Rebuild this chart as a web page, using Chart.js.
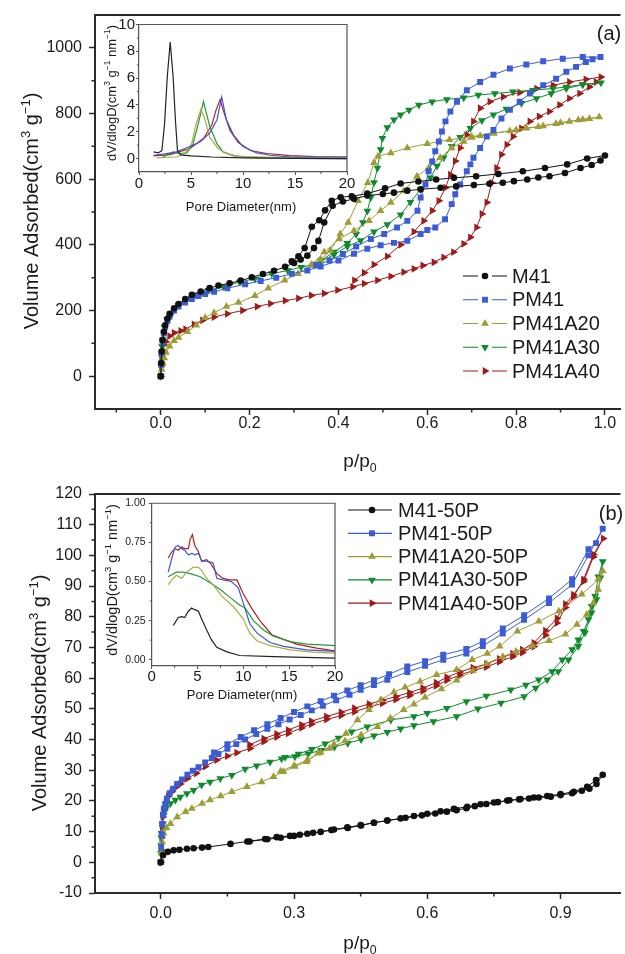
<!DOCTYPE html>
<html lang="en">
<head>
<meta charset="utf-8">
<title>N2 sorption isotherms</title>
<script src="https://cdn.jsdelivr.net/npm/chart.js@4.4.0/dist/chart.umd.min.js"></script>
<style>
  body { margin: 0; background: #fff; }
  #page { position: relative; width: 625px; height: 954px; overflow: hidden; background: #fff; }
  canvas { position: absolute; }
</style>
</head>
<body>
<div id="page">
  <canvas id="mainA" width="625" height="477" style="left:0;top:0"></canvas>
  <canvas id="mainB" width="625" height="477" style="left:0;top:477px"></canvas>
  <canvas id="insetA" width="270" height="200" style="left:90px;top:15px"></canvas>
  <canvas id="insetB" width="260" height="225" style="left:95px;top:495px"></canvas>
</div>
<script>
// ---------- panel (a) isotherms: adsorption branch, then desorption branch ----------
const A_XTICKS = [0, 0.2, 0.4, 0.6, 0.8, 1.0];
const A_XMINOR = [-0.1, 0.1, 0.3, 0.5, 0.7, 0.9];
const A_YTICKS = [0, 200, 400, 600, 800, 1000];
const A_YMINOR = [100, 300, 500, 700, 900];

const M41_P = [0, .001, .002, .004, .007, .01, .015, .02, .03, .04, .055, .07, .09, .11, .13, .155, .18, .205, .23, .255, .28, .3, .315, .33, .345, .355, .368, .387, .41, .435, .465, .5, .525, .555, .585, .63, .665, .705, .74, .77, .795, .825, .85, .875, .91, .945, .97, .99, 1.0,
  .96, .915, .865, .815, .76, .71, .66, .62, .58, .54, .505, .465, .43, .405, .385, .37, .357, .34, .324, .31, .295];
const M41_V = [0, 40, 75, 110, 135, 155, 175, 190, 207, 220, 235, 248, 258, 268, 276, 283, 291, 301, 311, 321, 333, 345, 355, 367, 390, 412, 468, 519, 532, 540, 550, 555, 559, 565, 569, 574, 578, 582, 586, 589, 594, 599, 605, 609, 619, 634, 643, 657, 672,
  663, 645, 634, 624, 616, 609, 604, 599, 593, 587, 572, 556, 548, 545, 534, 505, 475, 455, 390, 365, 350];

const PM41_P = [0, .001, .002, .004, .007, .01, .015, .02, .03, .04, .055, .07, .085, .1, .12, .15, .19, .225, .26, .295, .33, .36, .4, .435, .465, .495, .525, .555, .585, .6, .618, .64, .655, .663, .674, .689, .697, .704, .719, .734, .749, .767, .786, .808, .831, .861, .89, .913, .935, .957, .972, .99,
  .95, .905, .861, .823, .786, .749, .719, .689, .667, .652, .641, .633, .626, .618, .611, .603, .596, .585, .578, .555, .532, .503, .473, .44, .41, .38, .35];
const PM41_V = [0, 35, 70, 105, 130, 150, 168, 182, 200, 212, 224, 235, 244, 250, 257, 268, 280, 290, 300, 312, 322, 334, 352, 373, 388, 399, 406, 412, 433, 445, 453, 478, 524, 554, 584, 624, 645, 665, 695, 730, 750, 785, 811, 836, 861, 886, 906, 927, 942, 957, 965, 972,
  972, 967, 959, 949, 937, 918, 896, 871, 836, 806, 776, 745, 715, 685, 654, 624, 584, 544, 504, 473, 453, 433, 418, 395, 372, 352, 338];

const A20_P = [0, .002, .005, .008, .012, .02, .03, .04, .06, .08, .1, .12, .148, .175, .212, .242, .279, .309, .338, .368, .402, .435, .469, .495, .518, .547, .577, .603, .629, .655, .682, .70, .719, .749, .786, .823, .861, .89, .92, .94, .965, .987,
  .95, .9, .85, .8, .75, .7, .65, .6, .555, .518, .489, .48, .466, .444, .422, .404, .382, .36, .34];
const A20_V = [0, 20, 40, 55, 72, 91, 108, 118, 135, 155, 178, 193, 212, 224, 245, 268, 292, 312, 337, 378, 418, 443, 473, 504, 529, 564, 609, 634, 665, 695, 715, 727, 732, 740, 747, 755, 762, 769, 776, 780, 784, 789,
  782, 772, 760, 750, 740, 730, 720, 708, 695, 680, 670, 650, 589, 534, 468, 433, 383, 355, 340];

const A30_P = [0, .001, .002, .003, .005, .008, .014, .025, .04, .058, .077, .107, .141, .178, .212, .25, .286, .316, .35, .39, .42, .45, .48, .51, .54, .562, .585, .607, .622, .637, .655, .674, .697, .723, .749, .778, .812, .846, .879, .913, .95, .991,
  .95, .913, .883, .838, .793, .752, .715, .682, .644, .611, .581, .559, .54, .525, .51, .499, .495, .488, .48, .473, .465, .455, .44, .42, .39, .36];
const A30_V = [0, 30, 60, 90, 111, 150, 171, 191, 216, 234, 247, 262, 272, 287, 297, 312, 322, 332, 342, 370, 395, 413, 440, 462, 492, 530, 569, 604, 640, 665, 700, 728, 755, 779, 796, 814, 831, 846, 861, 876, 888, 894,
  888, 881, 876, 871, 866, 861, 856, 848, 843, 836, 826, 811, 796, 781, 757, 725, 690, 634, 590, 544, 503, 468, 432, 405, 378, 352];

const A40_P = [0, .001, .002, .004, .007, .011, .02, .03, .045, .056, .075, .094, .12, .15, .184, .217, .247, .28, .31, .339, .368, .398, .432, .458, .488, .518, .547, .57, .59, .615, .637, .659, .682, .697, .711, .723, .734, .745, .756, .767, .779, .793, .812, .831, .852, .875, .898, .92, .943, .965, .98, .991,
  .957, .92, .883, .846, .808, .771, .741, .719, .704, .689, .674, .663, .652, .641, .626, .611, .592, .57, .54, .51, .48, .458, .436];
const A40_V = [0, 30, 55, 80, 95, 105, 122, 132, 138, 143, 158, 170, 180, 190, 200, 212, 221, 230, 237, 246, 252, 262, 272, 282, 292, 304, 317, 327, 337, 347, 362, 378, 403, 423, 453, 494, 529, 589, 634, 675, 705, 730, 755, 776, 791, 806, 826, 846, 861, 881, 896, 911,
  904, 896, 886, 876, 864, 851, 836, 816, 776, 735, 695, 655, 614, 574, 534, 504, 473, 440, 400, 365, 340, 315, 292];

// ---------- panel (a) inset: pore size distribution ----------
const IA_XTICKS = [0, 5, 10, 15, 20];
const IA_XMINOR = [2.5, 7.5, 12.5, 17.5];
const IA_YTICKS = [0, 2, 4, 6, 8, 10];
const IA_YMINOR = [1, 3, 5, 7, 9];
const IA_M41_D = [1.4, 1.85, 2.2, 2.45, 2.72, 3.0, 3.28, 3.5, 3.7, 4.0, 5.0, 7.0, 10, 15, 20];
const IA_M41_V = [0.5, 0.42, 0.6, 2.5, 6.1, 8.7, 6.1, 2.9, 0.6, 0.28, 0.2, 0.12, 0.06, 0.02, 0.0];
const IA_PM41_D = [1.4, 2.5, 3.6, 4.9, 5.9, 6.8, 7.5, 7.95, 8.4, 9.1, 10, 11.3, 12.6, 14.5, 17, 20];
const IA_PM41_V = [0.25, 0.35, 0.5, 0.9, 1.25, 1.9, 2.9, 4.6, 2.9, 1.75, 0.9, 0.43, 0.25, 0.12, 0.12, 0.12];
const IA_A20_D = [1.7, 3.6, 4.4, 5.06, 5.5, 5.96, 6.35, 6.8, 7.6, 8.4, 9.7, 13, 20];
const IA_A20_V = [0.05, 0.12, 0.38, 1.1, 2.6, 3.7, 2.9, 1.6, 0.75, 0.38, 0.15, 0.1, 0.12];
const IA_A30_D = [2.3, 2.9, 3.3, 3.8, 4.6, 5.2, 5.7, 6.2, 6.8, 7.5, 8.1, 9.1, 11.3, 15, 20];
const IA_A30_V = [0.12, 0.35, 0.5, 0.38, 0.42, 1.1, 2.6, 4.25, 2.4, 1.1, 0.5, 0.2, 0.07, 0.02, 0.0];
const IA_A40_D = [1.4, 3, 4.9, 6.2, 7.0, 7.4, 7.8, 8.1, 8.75, 9.55, 10.7, 12.3, 14.5, 17, 20];
const IA_A40_V = [0.2, 0.3, 0.75, 1.5, 2.5, 3.6, 4.4, 3.6, 2.1, 1.2, 0.6, 0.38, 0.22, 0.15, 0.12];

// ---------- panel (b) isotherms (50P samples) ----------
const B_XTICKS = [0, 0.3, 0.6, 0.9];
const B_XMINOR = [0.15, 0.45, 0.75];
const B_YTICKS = [-10, 0, 10, 20, 30, 40, 50, 60, 70, 80, 90, 100, 110, 120];
const B_YMINOR = [-5, 5, 15, 25, 35, 45, 55, 65, 75, 85, 95, 105, 115];

const M41P_P = [0, .005, .016, .029, .042, .059, .074, .093, .107, .157, .195, .235, .261, .291, .313, .343, .384, .421, .451, .48, .51, .551, .588, .618, .644, .666, .688, .707, .733, .759, .785, .807, .829, .851, .878, .9, .926, .948, .965, .981, .995,
  .98, .96, .93, .9, .87, .84, .81, .78, .75, .72, .69, .66, .63, .6, .57, .54, .51, .48, .45, .42, .39, .36, .33, .3, .27, .24, .2];
const M41P_V = [0, 2.3, 3.4, 3.9, 4.1, 4.4, 4.6, 4.8, 5.0, 6.0, 6.8, 7.6, 8.2, 8.6, 9.0, 9.6, 10.5, 11.2, 12.0, 12.9, 13.6, 14.5, 15.3, 15.9, 16.5, 17.0, 17.6, 18.3, 19.0, 19.6, 20.2, 20.5, 20.8, 21.1, 21.4, 21.9, 22.5, 23.3, 24.0, 25.5, 28.5,
  26.8, 24.6, 23.0, 22.2, 21.6, 21.1, 20.6, 20.1, 19.5, 18.9, 18.1, 17.4, 16.6, 15.8, 15.1, 14.3, 13.6, 12.9, 12.1, 11.4, 10.7, 9.9, 9.3, 8.6, 8.0, 7.5, 6.8];

const PM41P_P = [0, .001, .002, .003, .005, .007, .01, .014, .02, .028, .037, .048, .06, .072, .085, .1, .115, .13, .15, .17, .19, .215, .24, .265, .29, .315, .34, .365, .395, .425, .45, .48, .51, .555, .595, .636, .688, .725, .77, .818, .874, .926, .963, .995,
  .98, .963, .926, .874, .818, .77, .725, .688, .636, .595, .555, .514, .48, .45, .42, .39, .36, .33, .3, .27, .24, .21, .18, .15, .12];
const PM41P_V = [0, 5, 9, 12.5, 15.5, 17.5, 19, 20.8, 22.5, 24, 25.5, 27, 28.5, 29.8, 31, 32.5, 34, 35.3, 37, 38.5, 40, 41.8, 43.5, 45, 46.5, 48, 49.5, 51, 52.8, 54.6, 56.2, 57.8, 59.5, 62, 64, 66, 68, 70.5, 74.5, 79, 84.5, 90.5, 100, 108.7,
  104, 102, 92.2, 86, 80.5, 76.2, 72, 69.5, 67.6, 65.5, 63.8, 61.3, 59.3, 57.7, 56, 54.3, 52.5, 50.8, 49, 47, 45, 43, 40.8, 38.5, 35.8];

const A20P_P = [0, .001, .003, .007, .013, .022, .037, .056, .07, .093, .111, .135, .16, .194, .227, .254, .276, .302, .328, .354, .38, .415, .451, .488, .517, .547, .57, .595, .632, .666, .703, .733, .77, .8, .837, .874, .911, .937, .959, .974, .985, .995,
  .985, .948, .896, .851, .803, .763, .735, .701, .666, .621, .584, .55, .525, .495, .469, .443, .417, .39, .36, .33, .3, .27];
const A20P_V = [0, 3, 6.6, 9.5, 11.2, 12.6, 14.8, 16.5, 17.5, 19.2, 20.3, 21.6, 23, 24.6, 26.2, 27.9, 29.5, 31.2, 32.8, 35.5, 37.1, 39.5, 41.5, 44.2, 46.9, 49.7, 51.5, 53.8, 56.5, 59.3, 62.5, 64.7, 67, 68.7, 70.5, 72.2, 74.3, 77.5, 80.7, 84.5, 88.9, 94.9,
  92.2, 87.3, 81.8, 78.5, 75.3, 70.4, 68, 66, 62.7, 61.1, 58.9, 57, 55.5, 52.9, 49.7, 46.4, 42, 38.5, 35.8, 33.3, 31.5, 29.7];

const A30P_P = [0, .0005, .001, .0015, .002, .005, .007, .012, .022, .033, .044, .059, .074, .092, .111, .134, .16, .19, .216, .246, .272, .302, .332, .361, .391, .421, .451, .48, .51, .54, .57, .614, .666, .714, .766, .818, .844, .87, .895, .918, .94, .955, .97, .981, .99, .995,
  .985, .978, .97, .963, .952, .94, .926, .904, .881, .851, .822, .788, .733, .688, .644, .6, .57, .518, .465, .43, .4, .37, .34, .31, .28];
const A30P_V = [0, 3, 5.6, 8, 9.5, 12.6, 15.4, 17.5, 19.2, 20.3, 21.3, 22.4, 23.5, 25.2, 26.2, 27.3, 28.4, 30.4, 31.5, 32.7, 33.7, 34.4, 35.4, 36.5, 37.6, 38.8, 40, 41.2, 42.4, 43.5, 44.6, 45.9, 47.5, 50, 51.9, 54, 56.8, 59.5, 62.2, 66, 70.4, 74.8, 81.3, 85.6, 92.7, 98,
  93, 86.7, 83.4, 79.1, 75.3, 72.5, 69.3, 66, 62.2, 59.5, 57.8, 56.2, 54.2, 52.4, 50.2, 48.6, 47.5, 46.4, 44.2, 42.5, 40.5, 38.6, 36.8, 35.3, 34.2];

const A40P_P = [0, .001, .002, .003, .005, .008, .012, .017, .025, .035, .044, .06, .08, .1, .126, .15, .171, .201, .232, .261, .287, .317, .339, .373, .406, .436, .469, .499, .529, .56, .59, .62, .644, .673, .703, .733, .762, .792, .814, .84, .866, .892, .911, .929, .952, .974, .996,
  .974, .952, .929, .911, .892, .866, .84, .814, .792, .762, .733, .703, .673, .644, .62, .59, .56, .529, .499, .469, .436, .406, .373, .339, .317, .287, .261, .232, .2];
const A40P_V = [0, 4, 8, 11.5, 14.8, 17, 19.7, 21.5, 23, 24.5, 25.5, 27.3, 29, 31.2, 33.3, 34.6, 35.7, 37.1, 39.3, 40.8, 42, 43.8, 45, 46.5, 47.8, 49, 50.6, 51.8, 53, 54.3, 55.8, 57.5, 59.3, 61, 62.5, 63.6, 65.3, 67, 68.3, 70.3, 74, 78, 83, 86.5, 92.2, 100.3, 105.5,
  99.5, 91.5, 87.2, 84.2, 79.5, 75.5, 71.5, 69.3, 68, 66.3, 64.6, 63.4, 62, 60.3, 58.5, 56.8, 55.3, 54, 52.8, 51.6, 50.2, 48.9, 47.5, 46, 44.8, 43.1, 41.8, 40.3, 38.3];

// ---------- panel (b) inset ----------
const IB_XTICKS = [0, 5, 10, 15, 20];
const IB_XMINOR = [2.5, 7.5, 12.5, 17.5];
const IB_YTICKS = [0, 0.25, 0.5, 0.75, 1.0];
const IB_YMINOR = [0.125, 0.375, 0.625, 0.875];
const IB_M41_D = [2.36, 2.9, 3.3, 3.6, 4.0, 4.36, 4.7, 5.1, 5.45, 6.0, 6.5, 7.1, 8.2, 9.6, 13.3, 20];
const IB_M41_V = [0.22, 0.27, 0.275, 0.27, 0.31, 0.33, 0.32, 0.31, 0.26, 0.19, 0.13, 0.08, 0.05, 0.027, 0.02, 0.01];
const IB_PM41_D = [1.8, 2.2, 2.55, 2.9, 3.27, 3.6, 4.0, 4.4, 4.7, 5.1, 5.45, 6.0, 6.7, 7.1, 7.8, 8.7, 9.45, 10.0, 10.7, 11.5, 12.9, 14.4, 16.9, 20];
const IB_PM41_V = [0.56, 0.65, 0.72, 0.73, 0.71, 0.70, 0.67, 0.68, 0.67, 0.68, 0.63, 0.63, 0.62, 0.52, 0.51, 0.50, 0.46, 0.36, 0.23, 0.17, 0.11, 0.085, 0.063, 0.053];
const IB_A20_D = [1.8, 2.2, 2.7, 3.27, 3.8, 4.5, 5.1, 5.45, 6.0, 6.7, 7.6, 8.9, 10, 10.7, 11.5, 12.9, 15.1, 17.6, 20];
const IB_A20_V = [0.48, 0.51, 0.54, 0.52, 0.56, 0.59, 0.59, 0.57, 0.52, 0.48, 0.41, 0.34, 0.26, 0.17, 0.12, 0.09, 0.063, 0.049, 0.042];
const IB_A30_D = [1.8, 2.36, 2.7, 3.45, 4.2, 5.3, 6.4, 7.45, 8.5, 9.6, 10.2, 11.1, 12.2, 13.3, 15.1, 16.9, 20];
const IB_A30_V = [0.53, 0.55, 0.56, 0.56, 0.55, 0.53, 0.49, 0.45, 0.40, 0.35, 0.33, 0.25, 0.19, 0.15, 0.116, 0.1, 0.09];
const IB_A40_D = [1.8, 2.2, 2.55, 2.9, 3.27, 3.6, 4.0, 4.2, 4.44, 4.7, 5.1, 5.45, 6.0, 6.5, 7.1, 7.8, 8.5, 9.3, 10, 10.9, 11.8, 13.1, 14.4, 15.8, 18, 20];
const IB_A40_V = [0.65, 0.69, 0.71, 0.70, 0.72, 0.71, 0.71, 0.77, 0.80, 0.73, 0.69, 0.63, 0.64, 0.61, 0.55, 0.52, 0.51, 0.51, 0.42, 0.33, 0.25, 0.16, 0.13, 0.10, 0.074, 0.057];

// ---------- styling ----------
const FONT = "'Liberation Sans', Arial, Helvetica, sans-serif";
const AXIS = '#2a2a2a';
const C_BLACK = '#111111', C_BLUE = '#3b5cd4', C_OLIVE = '#9e9c36', C_GREEN = '#0f8a2c', C_RED = '#a11a1a';

function pts(P, V) { return P.map((p, i) => ({ x: p, y: V[i] })); }

function iso(label, P, V, color, style, rot, r) {
  return { label, data: pts(P, V), showLine: true, borderColor: color, backgroundColor: color,
    borderWidth: 1, pointStyle: style, pointRotation: rot, pointRadius: r, pointHoverRadius: r,
    pointBorderWidth: 0, tension: 0 };
}
function psd(label, D, V, color) {
  return { label, data: pts(D, V), showLine: true, borderColor: color, borderWidth: 1.2,
    pointRadius: 0, pointHoverRadius: 0, tension: 0 };
}

// text with super/subscripts, optionally rotated
function drawRich(ctx, parts, x, y, size, align, rot) {
  ctx.save();
  ctx.translate(x, y);
  if (rot) ctx.rotate(rot);
  let w = 0;
  const segs = parts.map(p => {
    const s = (p.sup || p.sub) ? size * 0.65 : size;
    ctx.font = s + 'px ' + FONT;
    const sw = ctx.measureText(p.t).width;
    w += sw;
    return { t: p.t, s, w: sw, dy: p.sup ? -size * 0.4 : (p.sub ? size * 0.25 : 0) };
  });
  let cx = align === 'center' ? -w / 2 : 0;
  ctx.textAlign = 'left';
  ctx.textBaseline = 'alphabetic';
  segs.forEach(sg => { ctx.font = sg.s + 'px ' + FONT; ctx.fillText(sg.t, cx, sg.dy); cx += sg.w; });
  ctx.restore();
}

// frame, minor ticks, titles and in-plot legend
function decor(cfg) {
  return {
    id: 'decor',
    afterDraw(chart) {
      const ctx = chart.ctx, ca = chart.chartArea;
      const sx = chart.scales.x, sy = chart.scales.y;
      ctx.save();
      ctx.strokeStyle = cfg.axisColor;
      ctx.lineWidth = cfg.axisWidth;
      ctx.beginPath();
      ctx.moveTo(ca.left - cfg.axisWidth / 2, ca.top);
      ctx.lineTo(ca.right, ca.top);
      if (cfg.box) ctx.lineTo(ca.right, ca.bottom + cfg.axisWidth / 2);
      ctx.stroke();
      ctx.lineWidth = cfg.tickWidth;
      ctx.beginPath();
      cfg.xMinor.forEach(v => { const px = sx.getPixelForValue(v); ctx.moveTo(px, ca.bottom); ctx.lineTo(px, ca.bottom + cfg.minorLen); });
      cfg.yMinor.forEach(v => { const py = sy.getPixelForValue(v); ctx.moveTo(ca.left, py); ctx.lineTo(ca.left - cfg.minorLen, py); });
      ctx.stroke();
      ctx.fillStyle = '#1a1a1a';
      cfg.texts.forEach(t => drawRich(ctx, t.parts, t.x, t.y, t.size, t.align, t.rot));
      if (cfg.legend) {
        const L = cfg.legend;
        chart.data.datasets.forEach((ds, i) => {
          const y = L.y0 + i * L.dy;
          ctx.strokeStyle = ds.borderColor;
          ctx.fillStyle = ds.backgroundColor;
          ctx.lineWidth = 1.2;
          ctx.beginPath();
          if (L.gap) {
            ctx.moveTo(L.x0, y); ctx.lineTo(L.mx - L.gap, y);
            ctx.moveTo(L.mx + L.gap, y); ctx.lineTo(L.x1, y);
          } else {
            ctx.moveTo(L.x0, y); ctx.lineTo(L.x1, y);
          }
          ctx.stroke();
          Chart.helpers.drawPoint(ctx, { pointStyle: ds.pointStyle, rotation: ds.pointRotation, radius: ds.pointRadius, borderWidth: 0 }, L.mx, y);
          ctx.fillStyle = '#1a1a1a';
          ctx.font = L.size + 'px ' + FONT;
          ctx.textAlign = 'left';
          ctx.textBaseline = 'middle';
          ctx.fillText(ds.label, L.tx, y + 1);
        });
      }
      ctx.restore();
    }
  };
}

function axis(o) {
  return {
    type: 'linear', min: o.min, max: o.max,
    afterBuildTicks: s => { s.ticks = o.ticks.map(v => ({ value: v })); },
    afterFit: s => { if (o.width !== undefined) s.width = o.width; if (o.height !== undefined) s.height = o.height; },
    grid: { drawOnChartArea: false, drawTicks: true, tickLength: o.tl, tickWidth: o.tw, tickColor: o.color },
    border: { display: true, color: o.color, width: o.bw },
    ticks: { autoSkip: false, maxRotation: 0, padding: o.pad, color: '#1a1a1a',
      font: { family: FONT, size: o.fs, lineHeight: 1 }, callback: o.fmt }
  };
}

const VOL = [{ t: 'Volume Adsorbed(cm' }, { t: '3', sup: 1 }, { t: ' g' }, { t: '\u22121', sup: 1 }, { t: ')' }];
const PP0 = [{ t: 'p/p' }, { t: '0', sub: 1 }];
const DVD = [{ t: 'dV/dlogD(cm' }, { t: '3', sup: 1 }, { t: ' g' }, { t: '\u22121', sup: 1 }, { t: ' nm' }, { t: '\u22121', sup: 1 }, { t: ')' }];
const PORE = [{ t: 'Pore Diameter(nm)' }];

const base = { responsive: false, animation: false, devicePixelRatio: 1, events: [],
  plugins: { legend: { display: false }, tooltip: { enabled: false } } };

// ---- main (a) ----
new Chart(document.getElementById('mainA'), {
  type: 'scatter',
  data: { datasets: [
    iso('M41', M41_P, M41_V, C_BLACK, 'circle', 0, 3.3),
    iso('PM41', PM41_P, PM41_V, C_BLUE, 'rect', 0, 4.2),
    iso('PM41A20', A20_P, A20_V, C_OLIVE, 'triangle', 0, 4.5),
    iso('PM41A30', A30_P, A30_V, C_GREEN, 'triangle', 180, 4.5),
    iso('PM41A40', A40_P, A40_V, C_RED, 'triangle', 90, 4.5)
  ] },
  options: Object.assign({}, base, {
    layout: { padding: { top: 13, right: 0, bottom: 0, left: 0 } },
    scales: {
      x: axis({ min: -0.148, max: 1.035, ticks: A_XTICKS, height: 68, tl: 6, tw: 1.5, color: AXIS, bw: 2, pad: 1, fs: 16, fmt: v => v.toFixed(1) }),
      y: axis({ min: -100, max: 1100, ticks: A_YTICKS, width: 95, tl: 6, tw: 1.5, color: AXIS, bw: 2, pad: 7, fs: 16, fmt: v => String(v) })
    }
  }),
  plugins: [decor({ axisColor: AXIS, axisWidth: 2, tickWidth: 1.5, minorLen: 3.5, box: false,
    xMinor: A_XMINOR, yMinor: A_YMINOR,
    texts: [
      { parts: VOL, x: 38, y: 211, size: 20, align: 'center', rot: -Math.PI / 2 },
      { parts: PP0, x: 360, y: 467, size: 19, align: 'center' },
      { parts: [{ t: '(a)' }], x: 609, y: 40, size: 20, align: 'center' }
    ],
    legend: { y0: 276, dy: 23.75, x0: 463, x1: 507, mx: 485, gap: 7, tx: 512, size: 20 } })]
});

// ---- main (b) ----
new Chart(document.getElementById('mainB'), {
  type: 'scatter',
  data: { datasets: [
    iso('M41-50P', M41P_P, M41P_V, C_BLACK, 'circle', 0, 3.3),
    iso('PM41-50P', PM41P_P, PM41P_V, C_BLUE, 'rect', 0, 4.2),
    iso('PM41A20-50P', A20P_P, A20P_V, C_OLIVE, 'triangle', 0, 4.5),
    iso('PM41A30-50P', A30P_P, A30P_V, C_GREEN, 'triangle', 180, 4.5),
    iso('PM41A40-50P', A40P_P, A40P_V, C_RED, 'triangle', 90, 4.5)
  ] },
  options: Object.assign({}, base, {
    layout: { padding: { top: 17, right: 0, bottom: 0, left: 0 } },
    scales: {
      x: axis({ min: -0.148, max: 1.035, ticks: B_XTICKS, height: 61, tl: 6, tw: 1.5, color: AXIS, bw: 2, pad: 7, fs: 16, fmt: v => v.toFixed(1) }),
      y: axis({ min: -10, max: 120, ticks: B_YTICKS, width: 95, tl: 6, tw: 1.5, color: AXIS, bw: 2, pad: 7, fs: 16, fmt: v => String(v) })
    }
  }),
  plugins: [decor({ axisColor: AXIS, axisWidth: 2, tickWidth: 1.5, minorLen: 3.5, box: false,
    xMinor: B_XMINOR, yMinor: B_YMINOR,
    texts: [
      { parts: VOL, x: 46, y: 216, size: 20, align: 'center', rot: -Math.PI / 2 },
      { parts: PP0, x: 360, y: 472, size: 19, align: 'center' },
      { parts: [{ t: '(b)' }], x: 611, y: 43, size: 20, align: 'center' }
    ],
    legend: { y0: 33, dy: 23.3, x0: 348, x1: 392, mx: 372, gap: 0, tx: 398, size: 20 } })]
});

// ---- inset (a) ----
new Chart(document.getElementById('insetA'), {
  type: 'scatter',
  data: { datasets: [
    psd('M41', IA_M41_D, IA_M41_V, '#222222'),
    psd('PM41', IA_PM41_D, IA_PM41_V, '#3a58d4'),
    psd('PM41A20', IA_A20_D, IA_A20_V, '#b0aa48'),
    psd('PM41A30', IA_A30_D, IA_A30_V, '#23993a'),
    psd('PM41A40', IA_A40_D, IA_A40_V, '#b41f1f')
  ] },
  options: Object.assign({}, base, {
    layout: { padding: { top: 9.5, right: 13, bottom: 0, left: 0 } },
    scales: {
      x: axis({ min: 0, max: 20, ticks: IA_XTICKS, height: 43, tl: 3, tw: 1, color: '#555', bw: 1.2, pad: 1, fs: 15, fmt: v => String(v) }),
      y: axis({ min: -1, max: 10, ticks: IA_YTICKS, width: 49, tl: 3, tw: 1, color: '#555', bw: 1.2, pad: 1, fs: 15, fmt: v => String(v) })
    }
  }),
  plugins: [decor({ axisColor: '#555', axisWidth: 1.2, tickWidth: 1, minorLen: 2, box: true,
    xMinor: IA_XMINOR, yMinor: IA_YMINOR,
    texts: [
      { parts: DVD, x: 25.5, y: 78, size: 13, align: 'center', rot: -Math.PI / 2 },
      { parts: PORE, x: 151, y: 195.5, size: 13, align: 'center' }
    ] })]
});

// ---- inset (b) ----
new Chart(document.getElementById('insetB'), {
  type: 'scatter',
  data: { datasets: [
    psd('M41-50P', IB_M41_D, IB_M41_V, '#222222'),
    psd('PM41-50P', IB_PM41_D, IB_PM41_V, '#3a58d4'),
    psd('PM41A20-50P', IB_A20_D, IB_A20_V, '#b0aa48'),
    psd('PM41A30-50P', IB_A30_D, IB_A30_V, '#23993a'),
    psd('PM41A40-50P', IB_A40_D, IB_A40_V, '#b41f1f')
  ] },
  options: Object.assign({}, base, {
    layout: { padding: { top: 7.5, right: 20, bottom: 0, left: 0 } },
    scales: {
      x: axis({ min: 0, max: 20, ticks: IB_XTICKS, height: 54, tl: 3, tw: 1, color: '#555', bw: 1.2, pad: 0.5, fs: 15, fmt: v => String(v) }),
      y: axis({ min: -0.04, max: 1.0, ticks: IB_YTICKS, width: 56.7, tl: 3, tw: 1, color: '#555', bw: 1.2, pad: 3, fs: 10.5, fmt: v => v.toFixed(2) })
    }
  }),
  plugins: [decor({ axisColor: '#555', axisWidth: 1.2, tickWidth: 1, minorLen: 2, box: true,
    xMinor: IB_XMINOR, yMinor: IB_YMINOR,
    texts: [
      { parts: DVD, x: 22, y: 85, size: 14.5, align: 'center', rot: -Math.PI / 2 },
      { parts: PORE, x: 147, y: 203.5, size: 13, align: 'center' }
    ] })]
});
</script>
</body>
</html>
